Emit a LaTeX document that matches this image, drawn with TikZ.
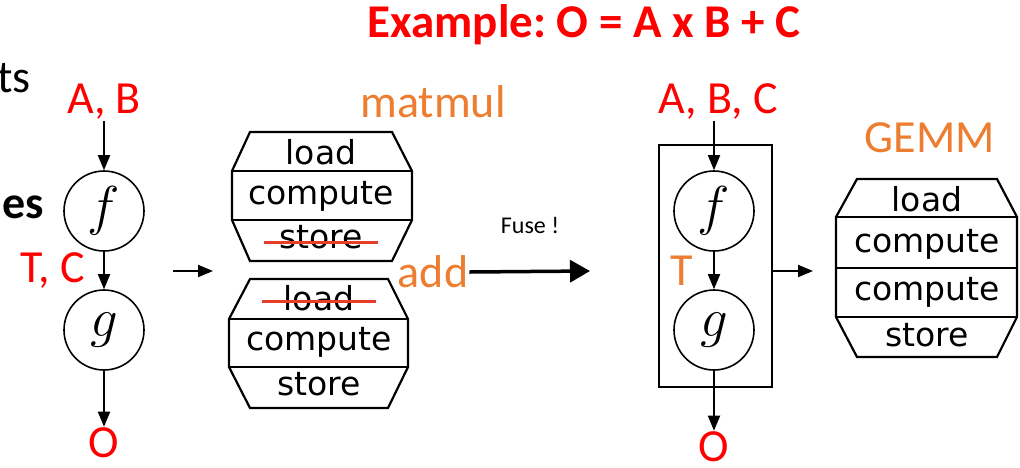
\documentclass[tikz,border=0pt]{standalone}
\usepackage{graphicx}
\usepackage{fontspec}
\setmainfont{Carlito}
\newfontfamily\stagefont{DejaVu Sans}
\usetikzlibrary{arrows.meta}
\definecolor{labred}{RGB}{255,0,0}
\definecolor{laborange}{RGB}{237,125,49}
\definecolor{strikered}{RGB}{230,62,42}
\newcommand{\opsym}[1]{\scalebox{2.2}{$#1$}}
\tikzset{
  op/.style={circle,draw,line width=1.6pt,minimum size=80pt,inner sep=0pt,
    font=\fontsize{24.88}{30}\selectfont},
  redlab/.style={text=labred,inner sep=1pt,font=\fontsize{46}{46}\selectfont},
  orlab/.style={text=laborange,inner sep=1pt,font=\fontsize{46}{46}\selectfont},
  stage/.style={anchor=base,inner sep=1pt,font=\stagefont\fontsize{33}{33}\selectfont},
  flow/.style={-{Triangle[length=15pt,width=12pt]},line width=1.8pt},
  fuse/.style={-{Triangle[length=20pt,width=22pt]},line width=3.5pt},
  strike/.style={strikered,line width=3pt},
  blk/.style={line width=2.2pt,line join=miter},
}
\frenchspacing
\begin{document}
\begin{tikzpicture}[x=1pt,y=-1pt]
\useasboundingbox (0,0) rectangle (1020,467);
% cut-off slide text
\node[anchor=base east,inner sep=0pt,font=\fontsize{46}{46}\selectfont] (tsw) at (31,92) {ts};
\node[anchor=base east,inner sep=0pt,font=\bfseries\fontsize{46}{46}\selectfont] (esw) at (44,218) {es};
\node[text=labred,font=\bfseries\fontsize{47}{47}\selectfont] (title) at (584,25) {Example: O = A x B + C};

% unfused graph
\node[redlab] (ab) at (104,102) {A, B};
\node[op] (f1) at (104,211) {\opsym{f}};
\node[op] (g1) at (104,330) {\opsym{g}};
\node[redlab] (tc) at (53,271) {T, C};
\node[redlab] (o1) at (104,443) {O};
\draw[flow] (ab) -- (f1);
\draw[flow] (f1) -- (g1);
\draw[flow] (g1) -- (o1);

\coordinate (in1) at (173,271);
\coordinate (in1e) at (213,271);
\draw[flow] (in1) -- (in1e);

% matmul kernel
\node[orlab] (matmul) at (433,102) {matmul};
\draw[blk] (250,132) -- (392,132) -- (412,171) -- (412,220) -- (392,261)
  -- (250,261) -- (232,220) -- (232,171) -- cycle;
\draw[blk] (232,171) -- (412,171) (232,220) -- (412,220);
\node[stage] (ld1) at (321,164) {load};
\node[stage] (cp1) at (321,204) {compute};
\node[stage] (st1) at (321,248) {store};
\draw[strike] ([xshift=-57pt,yshift=6pt]st1.base) -- ([xshift=57pt,yshift=6pt]st1.base);

% add kernel
\node[orlab] (add) at (433,272) {add};
\draw[blk] (250,279) -- (388,279) -- (408,319) -- (408,367) -- (388,408)
  -- (250,408) -- (229,367) -- (229,319) -- cycle;
\draw[blk] (229,319) -- (408,319) (229,367) -- (408,367);
\node[stage] (ld2) at (319,310) {load};
\node[stage] (cp2) at (319,350) {compute};
\node[stage] (st2) at (319,395) {store};
\draw[strike] ([xshift=-57pt,yshift=9pt]ld2.base) -- ([xshift=57pt,yshift=9pt]ld2.base);

% fusion step
\coordinate (fusee) at (590,271);
\draw[fuse] (add.east) -- (fusee);
\node[font=\fontsize{24}{24}\selectfont] (fuselab) at (530,225) {Fuse !};

% fused graph
\node[redlab] (abc) at (718,102) {A, B, C};
\node[op] (f2) at (714,211) {\opsym{f}};
\node[op] (g2) at (714,330) {\opsym{g}};
\node[draw,line width=1.8pt,minimum width=113pt,minimum height=242pt] (fused) at (715.5,266) {};
\node[orlab] (t2) at (682,271) {T};
\node[redlab] (o2) at (714,447) {O};
\draw[flow] (abc.south -| f2) -- (f2);
\draw[flow] (f2) -- (g2);
\draw[flow] (g2) -- (o2);

\coordinate (gemmin) at (813,271);
\draw[flow] (fused.east |- gemmin) -- (gemmin);

% GEMM kernel
\node[orlab] (gemm) at (930,138) {GEMM};
\draw[blk] (857,179) -- (997,179) -- (1017,217) -- (1017,317) -- (997,357)
  -- (857,357) -- (836,317) -- (836,217) -- cycle;
\draw[blk] (836,217) -- (1017,217) (836,268) -- (1017,268) (836,317) -- (1017,317);
\node[stage] (ld3) at (927,211) {load};
\node[stage] (cp3) at (927,252) {compute};
\node[stage] (cp4) at (927,300) {compute};
\node[stage] (st3) at (927,346) {store};
\end{tikzpicture}
\end{document}
